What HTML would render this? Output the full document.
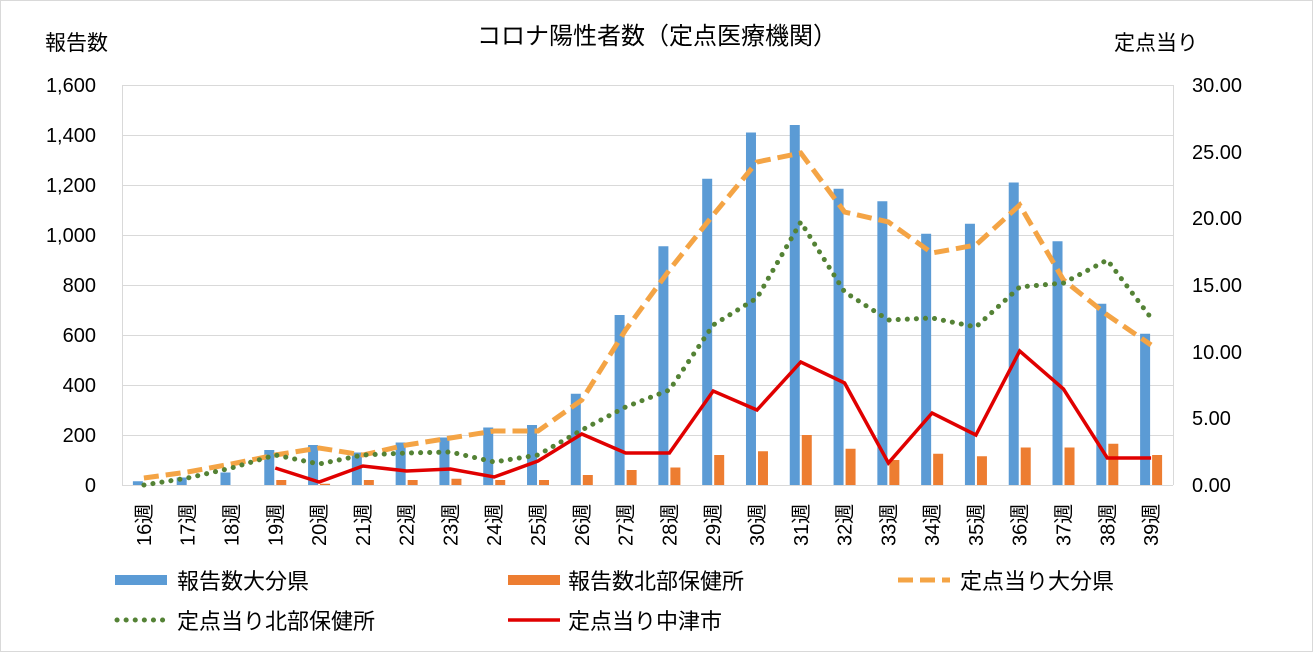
<!DOCTYPE html>
<html><head><meta charset="utf-8"><style>
body{margin:0;background:#fff}
svg{display:block}
text{font-family:"Liberation Sans","Noto Sans CJK JP",sans-serif;fill:#000}
</style></head><body>
<svg width="1313" height="652" viewBox="0 0 1313 652">
<rect x="0.5" y="0.5" width="1312" height="651" fill="#fff" stroke="#d9d9d9"/>
<g stroke="#d9d9d9" stroke-width="1">
<line x1="122" x2="1173" y1="85.5" y2="85.5"/><line x1="122" x2="1173" y1="135.5" y2="135.5"/>
<line x1="122" x2="1173" y1="185.5" y2="185.5"/><line x1="122" x2="1173" y1="235.5" y2="235.5"/>
<line x1="122" x2="1173" y1="285.5" y2="285.5"/><line x1="122" x2="1173" y1="335.5" y2="335.5"/>
<line x1="122" x2="1173" y1="385.5" y2="385.5"/><line x1="122" x2="1173" y1="435.5" y2="435.5"/>
<line x1="122" x2="1173" y1="485.5" y2="485.5"/>
<line x1="122.5" x2="122.5" y1="85" y2="485"/><line x1="1173.5" x2="1173.5" y1="85" y2="485"/>
</g>
<g id="bars"></g>
<g font-size="20" text-anchor="end">
<text x="96" y="92">1,600</text><text x="96" y="142">1,400</text><text x="96" y="192">1,200</text>
<text x="96" y="242">1,000</text><text x="96" y="292">800</text><text x="96" y="342">600</text>
<text x="96" y="392">400</text><text x="96" y="442">200</text><text x="96" y="492">0</text>
</g>
<g font-size="20" text-anchor="start">
<text x="1192" y="92">30.00</text><text x="1192" y="159">25.00</text><text x="1192" y="225">20.00</text>
<text x="1192" y="292">15.00</text><text x="1192" y="359">10.00</text><text x="1192" y="425">5.00</text>
<text x="1192" y="492">0.00</text>
</g>
<text x="45" y="50" font-size="21">報告数</text>
<text x="1114" y="50" font-size="21">定点当り</text>
<text x="657" y="44" font-size="24" text-anchor="middle">コロナ陽性者数（定点医療機関）</text>
<g id="xl" font-size="20"></g>
<g id="lines"></g>
<rect x="115" y="575" width="52" height="10" fill="#5b9bd5"/><text x="177" y="589" font-size="22">報告数大分県</text>
<rect x="508" y="575" width="52" height="10" fill="#ed7d31"/><text x="568" y="589" font-size="22">報告数北部保健所</text>
<line x1="898" x2="950" y1="580" y2="580" stroke="#f4a445" stroke-width="5" stroke-dasharray="15,7"/><text x="960" y="589" font-size="22">定点当り大分県</text>
<line x1="117" x2="167" y1="620" y2="620" stroke="#548235" stroke-width="5" stroke-dasharray="0.1,9" stroke-linecap="round"/><text x="177" y="629" font-size="22">定点当り北部保健所</text>
<line x1="508" x2="560" y1="620" y2="620" stroke="#e00000" stroke-width="3.5"/><text x="568" y="629" font-size="22">定点当り中津市</text>
</svg>
<script>
var B=[15,30,50,140,160,130,170,190,230,240,365,680,955,1225,1410,1440,1185,1135,1005,1045,1210,975,725,605];
var O=[0,0,0,20,5,20,20,25,20,20,40,60,70,120,135,200,145,100,125,115,150,150,165,120];
var D=[478,472,464,455,448,455,445,438,431,431,400,330,270,215,162,153,212,222,253,245,205,280,315,345];
var G=[485,478,468,455,464,455,453,452,462,455,430,407,390,325,298,222,292,320,318,327,287,283,260,318];
var R=[null,null,null,468,482,466,471,469,477,461,434,453,453,391,410,362,383,463,413,435,351,389,458,458];
var w=1051/24,h="",l="",x="";
for(var i=0;i<24;i++){var c=122+w*(i+0.5);
h+='<rect x="'+(c-11)+'" y="'+(485-B[i]/4)+'" width="10" height="'+(B[i]/4)+'" fill="#5b9bd5"/>';
h+='<rect x="'+(c+1)+'" y="'+(485-O[i]/4)+'" width="10" height="'+(O[i]/4)+'" fill="#ed7d31"/>';
x+='<text transform="translate('+(c+7)+',546) rotate(-90)">'+(16+i)+'週</text>';}
function pts(a){var s=[];for(var i=0;i<24;i++)if(a[i]!=null)s.push((122+w*(i+0.5)).toFixed(1)+','+a[i]);return s.join(' ');}
l+='<polyline points="'+pts(D)+'" fill="none" stroke="#f4a445" stroke-width="5" stroke-dasharray="15,7"/>';
l+='<polyline points="'+pts(G)+'" fill="none" stroke="#548235" stroke-width="5" stroke-dasharray="0.1,9" stroke-linecap="round"/>';
l+='<polyline points="'+pts(R)+'" fill="none" stroke="#e00000" stroke-width="3.5"/>';
document.getElementById('bars').innerHTML=h;document.getElementById('lines').innerHTML=l;document.getElementById('xl').innerHTML=x;
</script>
</body></html>
